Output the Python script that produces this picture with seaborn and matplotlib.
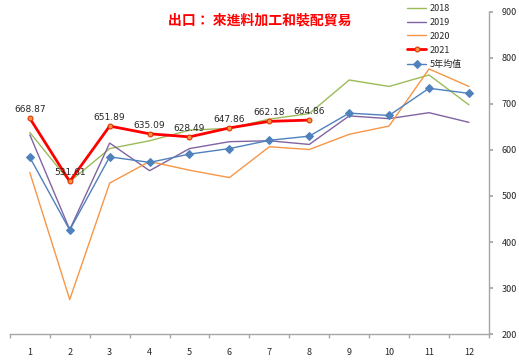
import numpy as np
import pandas as pd
import matplotlib
matplotlib.use("Agg")
import matplotlib.pyplot as plt
import seaborn as sns
from matplotlib.ticker import FixedLocator

# === Data ===
months = list(range(1, 13))
y2018 = [638, 531, 603, 620, 643, 647, 667, 679, 752, 738, 763, 698]
y2019 = [633, 427, 615, 555, 603, 618, 620, 612, 674, 668, 681, 660]
y2020 = [551, 275, 528, 575, 556, 540, 607, 601, 634, 652, 776, 738]
y2021 = [668.87, 531.61, 651.89, 635.09, 628.49, 647.86, 662.18, 664.86]
avg5 = [584, 426, 585, 573, 591, 603, 621, 630, 680, 675, 734, 723]

sns.set_theme(style="white")
plt.rcParams['font.family'] = ['Noto Sans CJK TC', 'DejaVu Sans']

fig = plt.figure(figsize=(5.19, 3.60), dpi=100)
ax = fig.add_axes([0.019, 0.072, 0.923, 0.895])

sns.lineplot(x=months, y=y2018, ax=ax, color="#9BBB59", linewidth=1.0, label="2018")
sns.lineplot(x=months, y=y2019, ax=ax, color="#8064A2", linewidth=1.0, label="2019")
sns.lineplot(x=months, y=y2020, ax=ax, color="#F79646", linewidth=1.0, label="2020")
sns.lineplot(x=months[:len(y2021)], y=y2021, ax=ax, color="#FF0000", linewidth=2.0,
             marker="o", markersize=3.5, markerfacecolor="#F79646",
             markeredgecolor="#E03000", label="2021")
sns.lineplot(x=months, y=avg5, ax=ax, color="#4F81BD", linewidth=1.0,
             marker="D", markersize=4.5, markeredgecolor="#4F81BD", label="5年均值")

# data labels for 2021
for m, v in zip(months, y2021):
    ax.text(m, v + 9, f"{v:.2f}", ha="center", va="bottom", fontsize=6.5,
            family=['DejaVu Sans'])

ax.set_xlim(0.5, 12.5)
ax.set_ylim(200, 900)
ax.set_yticks(range(200, 901, 100))
ax.set_xticks(months)
ax.xaxis.set_minor_locator(FixedLocator(np.arange(0.5, 13, 1)))

ax.yaxis.tick_right()
for s in ["top", "left"]:
    ax.spines[s].set_visible(False)
for s in ["right", "bottom"]:
    ax.spines[s].set_color("#A6A6A6")
    ax.spines[s].set_linewidth(1.0)
ax.tick_params(axis="y", which="major", direction="out", length=3, color="#A6A6A6",
               labelsize=6.5, right=True, left=False, pad=6)
ax.tick_params(axis="x", which="major", length=0, labelsize=6.5, pad=10)
ax.tick_params(axis="x", which="minor", direction="out", length=3, color="#A6A6A6", bottom=True)

ax.set_xlabel("")
ax.set_ylabel("")

ax.text(0.522, 0.972, "出口： 來進料加工和裝配貿易", transform=ax.transAxes,
        ha="center", va="center", color="#FF0000", fontsize=10, fontweight="bold")

leg = ax.legend(loc="upper left", bbox_to_anchor=(0.815, 1.045), frameon=False,
                fontsize=6.5, handlelength=2.2, labelspacing=0.55, borderpad=0.2,
                handletextpad=0.4)

fig.savefig("out.png", dpi=100)
